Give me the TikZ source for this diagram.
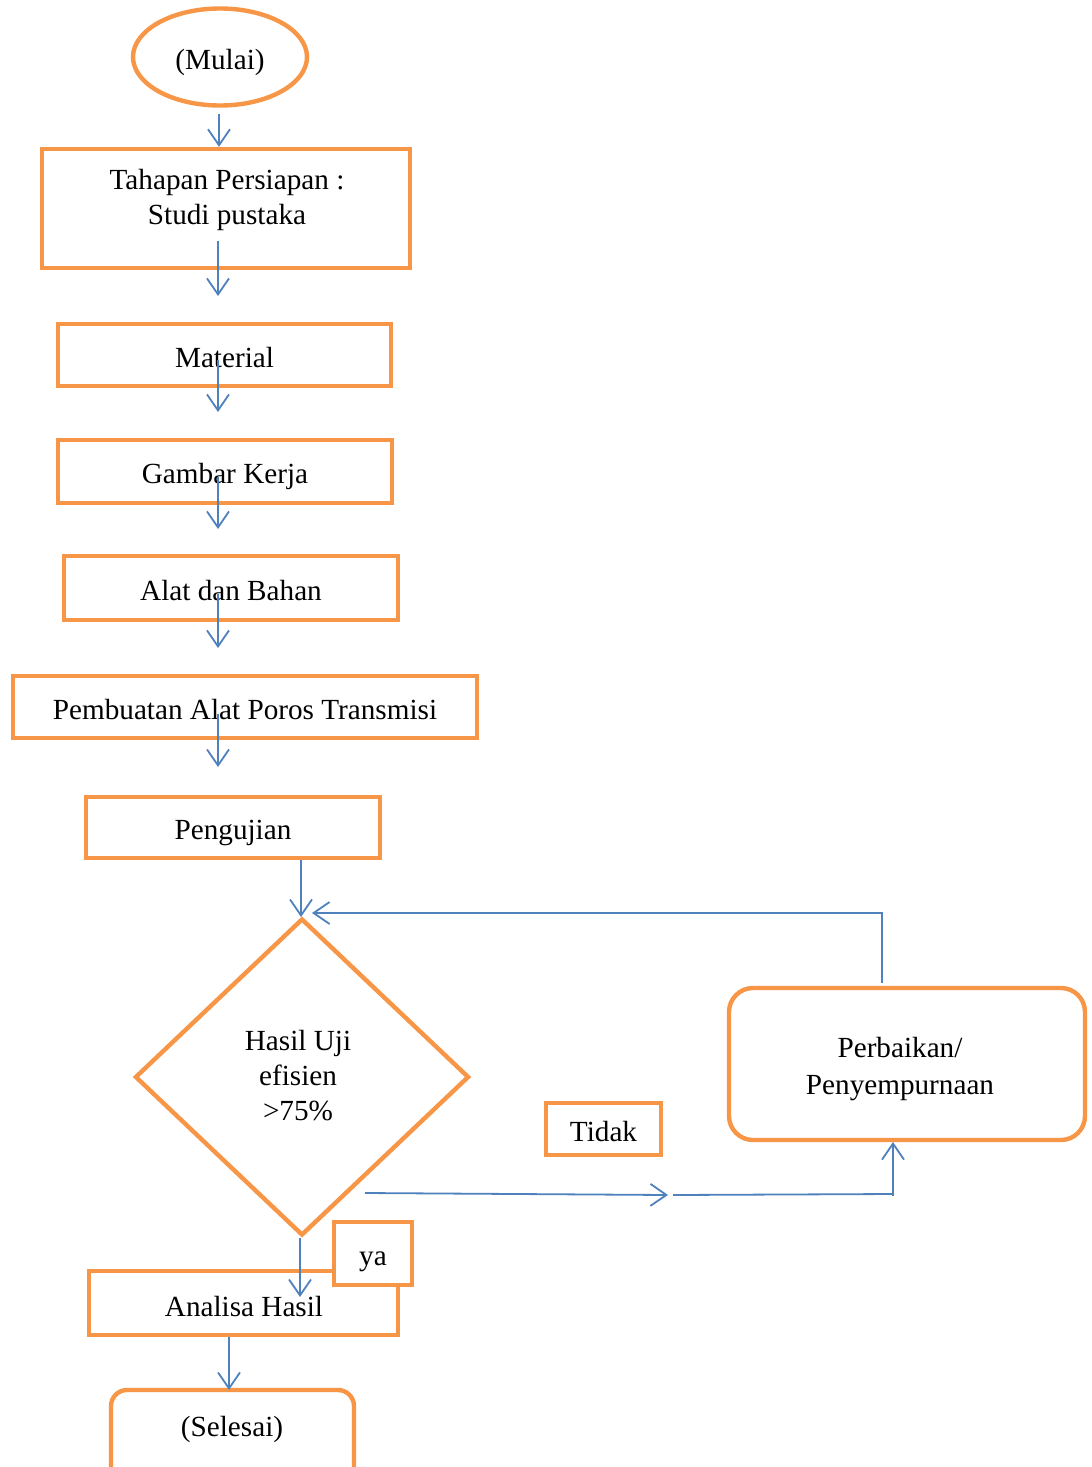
\documentclass[tikz,border=0pt]{standalone}
\usepackage{fontspec}
\setmainfont{Liberation Serif}
\usetikzlibrary{arrows.meta,shapes.geometric}
\definecolor{org}{HTML}{F79646}
\definecolor{blu}{HTML}{4F81BD}
\begin{document}
\begin{tikzpicture}[x=0.5pt,y=-0.5pt,
  font=\fontsize{14.6}{17.5}\selectfont,
  box/.style={draw=org,line width=2.2pt,fill=white,inner sep=0pt},
  tb/.style={text height=12pt,text depth=0pt},
  rbox/.style={box,rounded corners=12pt},
  arr/.style={draw=blu,line width=0.9pt,-{Straight Barb[length=8pt,width=11pt,line width=0.9pt]}},
  ln/.style={draw=blu,line width=0.9pt},
  txt/.style={inner sep=0pt,align=center}]
\clip (0,0) rectangle (1092,1467);
\fill[white] (0,0) rectangle (1092,1467);

% Start
\node[ellipse,box,tb,minimum width=87pt,minimum height=48.5pt] (mulai) at (220,57) {(Mulai)};

% Boxes
\node[box,minimum width=184pt,minimum height=59.5pt] (tah) at (226,208.5) {};
\node[txt] (taht) at (227,200) {Tahapan Persiapan :\\Studi pustaka};
\node[box,tb,minimum width=166.5pt,minimum height=31pt] (mat) at (224.5,355) {Material};
\node[box,tb,minimum width=167pt,minimum height=31.5pt] (gam) at (225,471.5) {Gambar Kerja};
\node[box,tb,minimum width=167pt,minimum height=32pt] (alat) at (231,588) {Alat dan Bahan};
\node[box,tb,minimum width=232pt,minimum height=31pt] (pemb) at (245,707) {Pembuatan Alat Poros Transmisi};
\node[box,tb,minimum width=147pt,minimum height=30.5pt] (peng) at (233,827.5) {Pengujian};

% Decision
\node[diamond,box,minimum width=167pt,minimum height=158.5pt] (dec) at (302,1077) {};
\node[txt] (dect) at (298,1076) {Hasil Uji\\efisien\\>75\%};

% Repair
\node[rbox,minimum width=178pt,minimum height=76pt] (perb) at (907,1064) {};
\node[txt,font=\fontsize{14.6}{18.5}\selectfont] (perbt) at (900,1069) {Perbaikan/\\Penyempurnaan};
\node[box,tb,minimum width=57.5pt,minimum height=26pt] (tidak) at (603.5,1129) {Tidak};

% Analisa and ya
\node[box,minimum width=154.5pt,minimum height=32pt] (anal) at (243.5,1303) {};
\node[txt] (analt) at (244,1306) {Analisa Hasil};
\node[box,tb,minimum width=39pt,minimum height=31.5pt] (ya) at (373,1253.5) {ya};

% End
\node[rbox,rounded corners=8pt,minimum width=121.5pt,minimum height=50pt] (sel) at (232.5,1440) {};
\node[txt] (selt) at (232,1429) {(Selesai)};

% Arrow coordinates
\coordinate (a1) at (219,114);
\coordinate (a2s) at (218,241); \coordinate (a2e) at (218,296);
\coordinate (a3s) at (218,360); \coordinate (a3e) at (218,412);
\coordinate (a4s) at (218,477); \coordinate (a4e) at (218,529);
\coordinate (a5s) at (218,594); \coordinate (a5e) at (218,648);
\coordinate (a6s) at (218,714); \coordinate (a6e) at (218,767);
\coordinate (a7s) at (301,860); \coordinate (a7e) at (301,917);
\coordinate (l1) at (882,983); \coordinate (l2) at (882,913); \coordinate (l3) at (312,913);
\coordinate (b1) at (365,1193); \coordinate (b2) at (668,1195);
\coordinate (b3) at (673,1195); \coordinate (b4) at (893,1194);
\coordinate (b5) at (893,1196); \coordinate (b6) at (893,1142);
\coordinate (y1) at (300,1238); \coordinate (y2) at (300,1297);
\coordinate (s1) at (229,1337); \coordinate (s2) at (229,1390);

\draw[arr] (a1) -- (a1 |- tah.north);
\draw[arr] (a2s) -- (a2e);
\draw[arr] (a3s) -- (a3e);
\draw[arr] (a4s) -- (a4e);
\draw[arr] (a5s) -- (a5e);
\draw[arr] (a6s) -- (a6e);
\draw[arr] (a7s) -- (a7e);
\draw[arr] (l1) -- (l2) -- (l3);
\draw[arr] (b1) -- (b2);
\draw[ln] (b3) -- (b4);
\draw[arr] (b5) -- (b6);
\draw[arr] (y1) -- (y2);
\draw[arr] (s1) -- (s2);
\end{tikzpicture}
\end{document}
